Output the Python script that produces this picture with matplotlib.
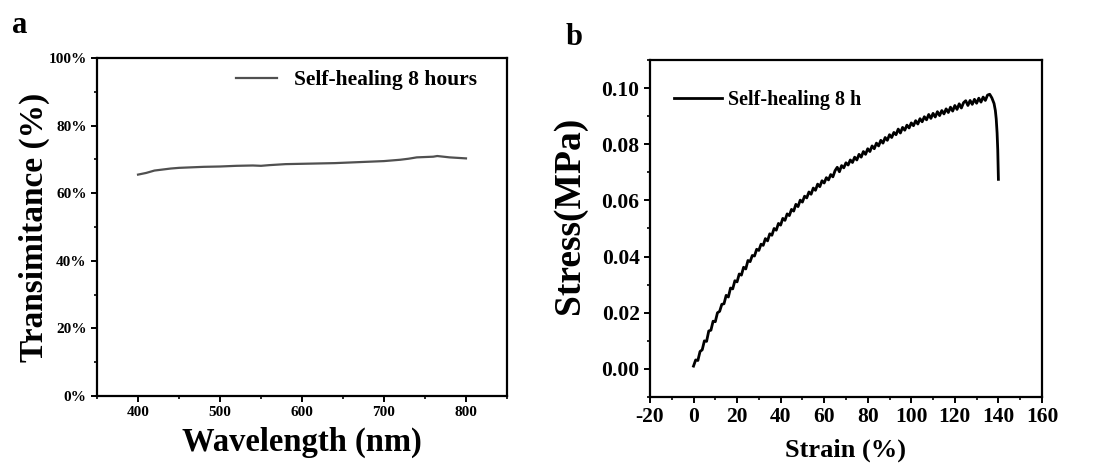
import matplotlib
matplotlib.use("Agg")
import matplotlib.pyplot as plt
from matplotlib.ticker import MultipleLocator

plt.rcParams['font.family'] = ['Liberation Serif', 'DejaVu Serif']
plt.rcParams['font.weight'] = 'bold'
plt.rcParams['axes.unicode_minus'] = False

# ---- Panel a data ----
wavelength = [400, 410, 420, 430, 440, 450, 460, 480, 500, 520, 540, 550, 560, 580,
              600, 620, 640, 660, 680, 700, 720, 730, 740, 750, 760, 765, 780, 800]
transmittance = [65.5, 66.0, 66.7, 67.0, 67.3, 67.5, 67.6, 67.8, 67.9, 68.1, 68.2, 68.1, 68.3, 68.6,
                 68.7, 68.8, 68.9, 69.1, 69.3, 69.5, 69.9, 70.2, 70.6, 70.7, 70.8, 71.0, 70.6, 70.3]
a_yticks = [0, 20, 40, 60, 80, 100]
a_yticklabels = ['0%', '20%', '40%', '60%', '80%', '100%']
a_xticks = [400, 500, 600, 700, 800]

# ---- Panel b data ----
strain = list(range(0, 137)) + [137, 138, 138.6, 139.0, 139.4, 139.7, 139.9, 140.0]
stress = [
    .0010, .0032, .0030, .0062, .0068, .0100, .0098, .0135, .0138, .0170,
    .0168, .0200, .0205, .0230, .0232, .0262, .0256, .0288, .0285, .0314,
    .0310, .0338, .0334, .0362, .0356, .0386, .0382, .0404, .0402, .0426,
    .0422, .0444, .0440, .0464, .0456, .0481, .0476, .0500, .0494, .0518,
    .0512, .0536, .0529, .0552, .0546, .0568, .0562, .0586, .0578, .0601,
    .0594, .0615, .0609, .0630, .0622, .0644, .0636, .0658, .0649, .0670,
    .0662, .0681, .0673, .0692, .0684, .0706, .0718, .0702, .0724, .0716,
    .0734, .0726, .0744, .0735, .0754, .0744, .0764, .0754, .0774, .0764,
    .0784, .0774, .0794, .0784, .0804, .0794, .0814, .0804, .0824, .0814,
    .0834, .0824, .0842, .0834, .0854, .0840, .0860, .0850, .0868, .0858,
    .0876, .0866, .0884, .0872, .0891, .0880, .0898, .0887, .0906, .0892,
    .0910, .0897, .0916, .0902, .0920, .0908, .0926, .0913, .0932, .0918,
    .0938, .0924, .0944, .0929, .0948, .0955, .0938, .0956, .0942, .0960,
    .0946, .0964, .0950, .0968, .0956, .0975, .0978,
    .0965, .0945, .0920, .0890, .0840, .0780, .0720, .0675]
b_xticks = [-20, 0, 20, 40, 60, 80, 100, 120, 140, 160]
b_yticks = [0.00, 0.02, 0.04, 0.06, 0.08, 0.10]

fig = plt.figure(figsize=(10.99, 4.75), dpi=100)

def style(ax):
    for s in ax.spines.values():
        s.set_linewidth(1.6)
    ax.tick_params(which='major', direction='out', length=4, width=1.4)
    ax.tick_params(which='minor', direction='out', length=2.5, width=1.2)

# Panel a
axa = fig.add_axes([0.0883, 0.1663, 0.373, 0.7116])
axa.plot(wavelength, transmittance, color='#505050', lw=1.6, label='Self-healing 8 hours')
axa.set_xlim(350, 850)
axa.set_ylim(0, 100)
axa.set_xticks(a_xticks)
axa.set_yticks(a_yticks)
axa.set_yticklabels(a_yticklabels)
axa.xaxis.set_minor_locator(MultipleLocator(50))
axa.yaxis.set_minor_locator(MultipleLocator(10))
style(axa)
axa.tick_params(labelsize=11)
for t in axa.get_xticklabels() + axa.get_yticklabels():
    t.set_fontweight('bold')
axa.set_xlabel('Wavelength (nm)', fontsize=23.5, fontweight='bold', labelpad=5)
axa.set_ylabel('Transimitance (%)', fontsize=24, fontweight='bold', labelpad=-1)
axa.legend(loc='upper right', frameon=False, fontsize=15.5, handlelength=1.9,
           handletextpad=0.8, bbox_to_anchor=(0.97, 1.015), borderaxespad=0.4)

# Panel b
axb = fig.add_axes([0.5914, 0.1642, 0.3567, 0.7095])
axb.plot(strain, stress, color='black', lw=2.0, label='Self-healing 8 h')
axb.set_xlim(-20, 160)
axb.set_ylim(-0.01, 0.11)
axb.set_xticks(b_xticks)
axb.set_yticks(b_yticks)
axb.set_yticklabels(['%.2f' % v for v in b_yticks])
axb.xaxis.set_minor_locator(MultipleLocator(10))
axb.yaxis.set_minor_locator(MultipleLocator(0.01))
style(axb)
axb.tick_params(labelsize=15.5)
for t in axb.get_xticklabels() + axb.get_yticklabels():
    t.set_fontweight('bold')
axb.set_xlabel('Strain (%)', fontsize=19, fontweight='bold', labelpad=8)
axb.set_ylabel('Stress(MPa)', fontsize=27, fontweight='bold')
axb.yaxis.set_label_coords(-0.16, 0.54)
axb.legend(loc='upper left', frameon=False, fontsize=14.5, handlelength=2.4,
           handletextpad=0.3, bbox_to_anchor=(0.02, 0.96), borderaxespad=0.4)

fig.text(0.011, 0.93, 'a', fontsize=22, fontweight='bold')
fig.text(0.515, 0.905, 'b', fontsize=22, fontweight='bold')

fig.savefig('out.png', dpi=100)
